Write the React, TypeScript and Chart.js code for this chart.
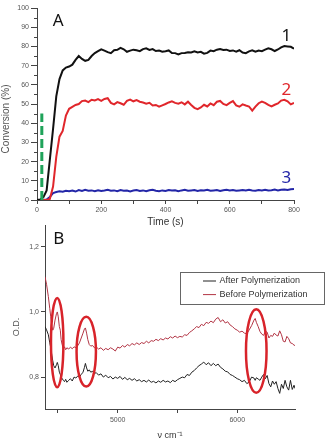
import React, { useEffect, useRef } from 'react';
import { Chart, registerables } from 'chart.js';

Chart.register(...registerables);

// ---------- Panel A: conversion vs time ----------
const timeS = [
  0, 10, 20, 30, 40, 50, 60, 70, 80, 90,
  100, 110, 120, 130, 140, 150, 160, 170, 180, 190,
  200, 210, 220, 230, 240, 250, 260, 270, 280, 290,
  300, 310, 320, 330, 340, 350, 360, 370, 380, 390,
  400, 410, 420, 430, 440, 450, 460, 470, 480, 490,
  500, 510, 520, 530, 540, 550, 560, 570, 580, 590,
  600, 610, 620, 630, 640, 650, 660, 670, 680, 690,
  700, 710, 720, 730, 740, 750, 760, 770, 780, 790,
  800,
];
const conversion1 = [
  0, 0.2, 1.5, 5, 21, 37, 54, 63, 67.5, 69,
  69.5, 70.5, 73, 75, 73.5, 72.5, 73, 75, 76.5, 77.5,
  78.5, 77.8, 77, 76.5, 78, 78.2, 79.2, 78.5, 77.2, 77.8,
  78.3, 78, 77.5, 78.6, 79, 78.2, 78.6, 77.6, 77.8, 77.2,
  77.5, 77.9, 76.6, 76.5, 75.8, 76.5, 76.6, 77, 76.8, 77.4,
  76.8, 77.2, 76.2, 76.6, 77.8, 77.5, 78.3, 78.6, 78.1, 78.3,
  77.6, 77.9, 77.3, 78, 76.8, 76.5, 77.4, 78, 77.2, 77.8,
  77.5, 78.3, 79, 78.5, 77.6, 78.4, 79.5, 80.2, 80, 79.8,
  78.8,
];
const conversion2 = [
  0, 0, 0, 0, 0.5, 7, 22.5, 33, 36, 44,
  47.5, 48.5, 49.5, 50, 51.5, 51.8, 51, 52.2, 51.8, 52.5,
  51.6, 52.6, 53, 50.6, 49.8, 51, 50.4, 49.6, 51.6, 52.3,
  51.4, 52, 51.2, 50.8, 50.2, 50.6, 49.2, 49.5, 48.6, 49.3,
  50, 50.8, 51.4, 50.6, 50.2, 50.9, 49.8, 51.2, 49.5, 48,
  47.3, 48.2, 49.6, 48.7, 50.3, 49.4, 51.2, 51.6, 50, 49.4,
  50.6, 51.5, 49.3, 48.6, 49.8, 49.2, 48.7, 46.5, 48.6, 50.4,
  51.3, 50.6, 49.5, 48.8, 49.6, 50.3, 51.8, 52.2, 51.4, 49.8,
  50.6,
];
const conversion3 = [
  0, 0, 0, 0.3, 1.6, 3.6, 4.2, 4.5, 4.3, 4.8,
  4.6, 4.9, 4.4, 5.2, 4.7, 5.3, 4.8, 5.0, 4.6, 5.1,
  4.7, 4.9, 5.3, 4.8, 5.0, 4.6, 5.2, 4.8, 4.9, 4.5,
  4.9, 5.2, 4.7, 5.0, 4.6, 5.1, 5.3, 4.8, 4.6, 5.0,
  4.7, 5.2, 4.9, 5.1, 4.6, 5.0, 5.3, 4.8, 5.0, 5.2,
  4.7, 5.1, 4.9, 5.3, 4.8, 5.0, 5.2, 4.7, 5.1, 5.3,
  4.9, 5.2, 4.8, 5.0, 5.2, 4.9, 5.3, 5.0, 4.8, 5.2,
  5.0, 5.3, 4.9, 5.1, 5.4, 5.0, 5.3, 5.5, 5.2, 5.6,
  5.7,
];
const dashTime = [15, 15];
const dashConversion = [0, 45];
const curveNames = ['1', '2', '3'];
const curveNameTime = [776, 776, 776];
const curveNameConversion = [85.4, 57.3, 11.3];
const panelALetter = 'A';
const panelALetterAt = [66, 93];
const conversionMinorTicks = [5, 15, 25, 35, 45, 55, 65, 75, 85, 95];

// ---------- Panel B: spectra ----------
const wavenumber = [
  4392, 4405, 4420, 4432, 4440, 4450, 4457, 4465, 4476, 4488,
  4495, 4503, 4512, 4520, 4527, 4535, 4545, 4555, 4565, 4575,
  4590, 4605, 4620, 4635, 4650, 4665, 4680, 4695, 4710, 4722,
  4730, 4740, 4750, 4762, 4775, 4790, 4805, 4820, 4840, 4860,
  4880, 4900, 4920, 4940, 4960, 4980, 5000, 5020, 5040, 5060,
  5080, 5100, 5120, 5140, 5160, 5180, 5200, 5220, 5240, 5260,
  5280, 5300, 5320, 5340, 5360, 5380, 5400, 5420, 5440, 5460,
  5480, 5500, 5520, 5540, 5560, 5580, 5600, 5620, 5640, 5660,
  5680, 5700, 5720, 5740, 5760, 5780, 5800, 5820, 5840, 5860,
  5880, 5900, 5920, 5940, 5960, 5980, 6000, 6020, 6040, 6060,
  6080, 6100, 6120, 6140, 6150, 6160, 6175, 6190, 6205, 6220,
  6235, 6250, 6265, 6280, 6295, 6310, 6325, 6340, 6355, 6370,
  6385, 6400, 6415, 6430, 6445, 6460, 6475, 6483,
];
const odAfter = [
  0.955, 0.945, 0.930, 0.905, 0.890, 0.865, 0.850, 0.835, 0.828, 0.838,
  0.845, 0.835, 0.815, 0.808, 0.800, 0.796, 0.790, 0.786, 0.793, 0.784,
  0.790, 0.795, 0.788, 0.800, 0.797, 0.803, 0.800, 0.808, 0.815, 0.830,
  0.842, 0.828, 0.818, 0.822, 0.815, 0.818, 0.810, 0.814, 0.806, 0.810,
  0.800, 0.806, 0.798, 0.802, 0.794, 0.800, 0.796, 0.802, 0.793, 0.799,
  0.792, 0.796, 0.790, 0.795, 0.788, 0.792, 0.786, 0.790, 0.785, 0.791,
  0.784, 0.787, 0.782, 0.788, 0.784, 0.790, 0.785, 0.788, 0.783, 0.790,
  0.786, 0.792, 0.796, 0.800, 0.798, 0.808, 0.805, 0.815, 0.820, 0.828,
  0.835, 0.840, 0.846, 0.838, 0.844, 0.835, 0.842, 0.835, 0.840, 0.830,
  0.825, 0.818, 0.816, 0.808, 0.805, 0.800, 0.795, 0.792, 0.786, 0.790,
  0.780, 0.785, 0.800, 0.797, 0.790, 0.798, 0.794, 0.790, 0.800, 0.808,
  0.795, 0.805, 0.780, 0.770, 0.788, 0.778, 0.786, 0.765, 0.750, 0.778,
  0.765, 0.790, 0.770, 0.760, 0.790, 0.762, 0.775, 0.765,
];
const odBefore = [
  1.108, 1.085, 1.047, 1.010, 0.985, 0.955, 0.944, 0.950, 0.975, 0.995,
  1.000, 0.985, 0.955, 0.944, 0.915, 0.900, 0.888, 0.893, 0.884, 0.890,
  0.886, 0.892, 0.887, 0.893, 0.890, 0.896, 0.905, 0.920, 0.935, 0.948,
  0.951, 0.935, 0.915, 0.900, 0.895, 0.897, 0.890, 0.893, 0.886, 0.890,
  0.882, 0.888, 0.884, 0.890, 0.886, 0.880, 0.892, 0.889, 0.897, 0.892,
  0.900, 0.896, 0.903, 0.899, 0.905, 0.900, 0.906, 0.903, 0.910, 0.905,
  0.912, 0.910, 0.916, 0.912, 0.918, 0.914, 0.920, 0.917, 0.924, 0.920,
  0.926, 0.921, 0.925, 0.923, 0.930, 0.928, 0.937, 0.942, 0.948, 0.955,
  0.952, 0.962, 0.958, 0.968, 0.965, 0.972, 0.967, 0.978, 0.983, 0.970,
  0.976, 0.966, 0.970, 0.960, 0.955, 0.948, 0.944, 0.938, 0.941, 0.935,
  0.933, 0.945, 0.958, 0.975, 0.980, 0.968, 0.955, 0.940, 0.932, 0.928,
  0.940, 0.938, 0.920, 0.928, 0.925, 0.935, 0.929, 0.926, 0.942, 0.930,
  0.910, 0.908, 0.925, 0.918, 0.905, 0.903, 0.898, 0.897,
];
const spectrumNames = ['After Polymerization', 'Before Polymerization'];
const wavenumberTicks = [4500, 5000, 5500, 6000];
const odTicks = [0.8, 1.0, 1.2];
const peakWavenumber = [4494, 4737, 6159];
const peakOD = [0.906, 0.878, 0.880];
const peakHalfWidth = [52, 81, 86];
const peakHalfHeight = [0.137, 0.107, 0.128];
const panelBLetter = 'B';
const panelBLetterAt = [4508, 1.224];

const FONT = '"Liberation Sans", Arial, sans-serif';
const BIG = '"Noto Sans", "Open Sans", sans-serif';
const AXIS = '#444';
const TICKTXT = '#555';

const pts = (xs: number[], ys: number[]) => xs.map((x, i) => ({ x, y: ys[i] }));

const panelAPlugin = {
  id: 'panelAText',
  afterDraw(chart: any) {
    const { ctx, chartArea } = chart;
    const x = chart.scales.x;
    const y = chart.scales.y;
    ctx.save();
    // minor ticks on the conversion axis
    ctx.strokeStyle = AXIS;
    ctx.lineWidth = 1;
    conversionMinorTicks.forEach((v) => {
      const py = Math.round(y.getPixelForValue(v)) + 0.5;
      ctx.beginPath();
      ctx.moveTo(chartArea.left - 3, py);
      ctx.lineTo(chartArea.left, py);
      ctx.stroke();
    });
    ctx.textAlign = 'center';
    ctx.textBaseline = 'middle';
    ctx.font = `17px ${BIG}`;
    ctx.fillStyle = '#111';
    ctx.fillText(panelALetter, x.getPixelForValue(panelALetterAt[0]), y.getPixelForValue(panelALetterAt[1]));
    const cols = ['#111111', '#e0262b', '#2326a8'];
    curveNames.forEach((t, i) => {
      ctx.fillStyle = cols[i];
      ctx.fillText(t, x.getPixelForValue(curveNameTime[i]), y.getPixelForValue(curveNameConversion[i]));
    });
    ctx.translate(6.5, (chartArea.top + chartArea.bottom) / 2 + 15);
    ctx.rotate(-Math.PI / 2);
    ctx.font = `10px ${FONT}`;
    ctx.fillStyle = '#555';
    ctx.fillText('Conversion (%)', 0, 0);
    ctx.restore();
  },
};

const panelBPlugin = {
  id: 'panelBText',
  afterDraw(chart: any) {
    const { ctx, chartArea } = chart;
    const x = chart.scales.x;
    const y = chart.scales.y;
    ctx.save();
    // ellipses
    ctx.strokeStyle = '#d8232a';
    ctx.lineWidth = 2.5;
    peakWavenumber.forEach((c, i) => {
      const cx = x.getPixelForValue(c);
      const cy = y.getPixelForValue(peakOD[i]);
      const rx = Math.abs(x.getPixelForValue(c + peakHalfWidth[i]) - cx);
      const ry = Math.abs(y.getPixelForValue(peakOD[i] + peakHalfHeight[i]) - cy);
      ctx.beginPath();
      ctx.ellipse(cx, cy, rx, ry, 0, 0, Math.PI * 2);
      ctx.stroke();
    });
    // letter
    ctx.textAlign = 'center';
    ctx.textBaseline = 'middle';
    ctx.font = `17px ${BIG}`;
    ctx.fillStyle = '#111';
    ctx.fillText(panelBLetter, x.getPixelForValue(panelBLetterAt[0]), y.getPixelForValue(panelBLetterAt[1]));
    // legend
    const lx0 = chartArea.right - 115;
    const lx1 = chartArea.right + 29;
    const ly0 = chartArea.top + 47;
    const ly1 = chartArea.top + 79;
    ctx.strokeStyle = '#666';
    ctx.lineWidth = 1;
    ctx.strokeRect(lx0 + 0.5, ly0 + 0.5, lx1 - lx0, ly1 - ly0);
    const lineCols = ['#222222', '#b23444'];
    ctx.font = `9px ${FONT}`;
    ctx.textAlign = 'left';
    spectrumNames.forEach((name, i) => {
      const ry = ly0 + 9 + i * 13.6;
      ctx.strokeStyle = lineCols[i];
      ctx.beginPath();
      ctx.moveTo(lx0 + 23, ry);
      ctx.lineTo(lx0 + 36, ry);
      ctx.stroke();
      ctx.fillStyle = '#333';
      ctx.fillText(name, lx0 + 39.5, ry);
    });
    // y title
    ctx.textAlign = 'center';
    ctx.translate(17, (chartArea.top + chartArea.bottom) / 2 + 10);
    ctx.rotate(-Math.PI / 2);
    ctx.font = `9px ${FONT}`;
    ctx.fillStyle = '#555';
    ctx.fillText('O.D.', 0, 0);
    ctx.restore();
  },
};

export default function App() {
  const refA = useRef<HTMLCanvasElement>(null);
  const refB = useRef<HTMLCanvasElement>(null);

  useEffect(() => {
    const tickFont = { family: FONT, size: 7 };
    const chartA = new Chart(refA.current as HTMLCanvasElement, {
      type: 'line',
      data: {
        datasets: [
          { label: 'dash', data: pts(dashTime, dashConversion), borderColor: '#1fa35a', borderWidth: 3, borderDash: [9, 4], pointRadius: 0 },
          { label: curveNames[0], data: pts(timeS, conversion1), borderColor: '#111111', borderWidth: 2, pointRadius: 0, tension: 0 },
          { label: curveNames[1], data: pts(timeS, conversion2), borderColor: '#e0262b', borderWidth: 2, pointRadius: 0, tension: 0 },
          { label: curveNames[2], data: pts(timeS, conversion3), borderColor: '#2326a8', borderWidth: 2, pointRadius: 0, tension: 0 },
        ],
      },
      options: {
        responsive: false,
        animation: false,
        devicePixelRatio: 1,
        layout: { padding: { left: 0, right: 37, top: 8, bottom: 0 } },
        plugins: { legend: { display: false }, tooltip: { enabled: false } },
        scales: {
          x: {
            type: 'linear',
            min: 0,
            max: 800,
            afterFit: (s: any) => { s.height = 32; },
            ticks: { stepSize: 100, autoSkip: false, maxRotation: 0, padding: 2, color: TICKTXT, font: tickFont, callback: (v: any) => (Number(v) % 200 === 0 ? String(v) : '') },
            grid: { drawOnChartArea: false, tickLength: 4, color: AXIS },
            border: { color: AXIS, width: 1 },
            title: { display: true, text: 'Time (s)', color: '#333', font: { family: FONT, size: 10 }, padding: { top: 0, bottom: 4 } },
          },
          y: {
            min: 0,
            max: 100,
            afterFit: (s: any) => { s.width = 37; },
            ticks: { stepSize: 10, autoSkip: false, padding: 2, color: TICKTXT, font: tickFont },
            grid: { drawOnChartArea: false, tickLength: 6, color: AXIS },
            border: { color: AXIS, width: 1 },
          },
        },
      },
      plugins: [panelAPlugin],
    } as any);

    const chartB = new Chart(refB.current as HTMLCanvasElement, {
      type: 'line',
      data: {
        datasets: [
          { label: spectrumNames[0], data: pts(wavenumber, odAfter), borderColor: '#222222', borderWidth: 1, pointRadius: 0, tension: 0 },
          { label: spectrumNames[1], data: pts(wavenumber, odBefore), borderColor: '#b23444', borderWidth: 1, pointRadius: 0, tension: 0 },
        ],
      },
      options: {
        responsive: false,
        animation: false,
        devicePixelRatio: 1,
        layout: { padding: { left: 0, right: 36, top: 11, bottom: 0 } },
        plugins: { legend: { display: false }, tooltip: { enabled: false } },
        scales: {
          x: {
            type: 'linear',
            min: 4392,
            max: 6483,
            afterBuildTicks: (s: any) => { s.ticks = wavenumberTicks.map((v) => ({ value: v })); },
            afterFit: (s: any) => { s.height = 33; },
            ticks: { autoSkip: false, maxRotation: 0, padding: 3, color: TICKTXT, font: tickFont, callback: (v: any) => (Number(v) % 1000 === 0 ? String(v) : '') },
            grid: { drawOnChartArea: false, tickLength: 4, color: AXIS },
            border: { color: AXIS, width: 1 },
            title: { display: true, text: 'ν cm⁻¹', color: '#333', font: { family: FONT, size: 9 }, padding: { top: 0, bottom: 1 } },
          },
          y: {
            min: 0.702,
            max: 1.267,
            afterBuildTicks: (s: any) => { s.ticks = odTicks.map((v) => ({ value: v })); },
            afterFit: (s: any) => { s.width = 45; },
            ticks: { autoSkip: false, padding: 2, color: TICKTXT, font: tickFont, callback: (v: any) => Number(v).toFixed(1).replace('.', ',') },
            grid: { drawOnChartArea: false, tickLength: 4, color: AXIS },
            border: { color: AXIS, width: 1 },
          },
        },
      },
      plugins: [panelBPlugin],
    } as any);

    return () => {
      chartA.destroy();
      chartB.destroy();
    };
  }, []);

  return (
    <div style={{ position: 'absolute', left: 0, top: 0, width: 331, height: 439, overflow: 'hidden', background: '#fff' }}>
      <canvas ref={refA} width={331} height={232} style={{ position: 'absolute', left: 0, top: 0, width: 331, height: 232 }} />
      <canvas ref={refB} width={331} height={228} style={{ position: 'absolute', left: 0, top: 214, width: 331, height: 228 }} />
    </div>
  );
}
